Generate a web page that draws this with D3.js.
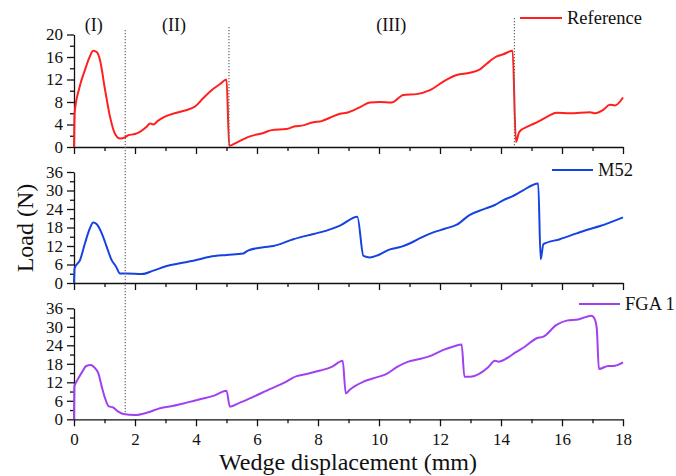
<!DOCTYPE html>
<html>
<head>
<meta charset="utf-8">
<script src="https://cdn.jsdelivr.net/npm/d3@7"></script>
<style>
  html, body { margin: 0; padding: 0; background: #fff; }
  svg { display: block; font-family: "Liberation Serif", "Times New Roman", serif; }
</style>
</head>
<body>
<svg id="chart" width="676" height="476"></svg>
<script>
// Wedge displacement (mm) / load (N) readings for each specimen
const refX = [0, 0.02, 0.17, 0.36, 0.52, 0.63, 0.76, 0.85, 1.02, 1.18, 1.34, 1.51, 1.67, 1.78, 2.0, 2.16, 2.38, 2.49, 2.6, 2.76, 2.98, 3.37, 3.64, 3.97, 4.24, 4.51, 4.79, 5.0, 5.09, 5.23, 5.72, 6.21, 6.48, 6.97, 7.25, 7.46, 7.85, 8.12, 8.39, 8.72, 8.94, 9.38, 9.70, 10.03, 10.41, 10.80, 11.23, 11.67, 12.16, 12.55, 12.98, 13.31, 13.53, 13.86, 14.08, 14.38, 14.49, 14.60, 14.90, 15.22, 15.55, 15.82, 16.26, 16.92, 17.08, 17.35, 17.57, 17.74, 18.0];
const refY = [0, 6.0, 10.4, 13.7, 16.1, 17.1, 16.8, 15.5, 10.1, 5.4, 2.4, 1.5, 1.7, 2.1, 2.3, 2.7, 3.6, 4.2, 4.0, 4.7, 5.4, 6.1, 6.5, 7.2, 8.7, 10.1, 11.2, 12.0, 0.2, 0.5, 1.8, 2.5, 3.0, 3.2, 3.7, 3.8, 4.4, 4.6, 5.2, 5.9, 6.1, 7.1, 7.9, 8.0, 7.9, 9.25, 9.4, 10.1, 11.8, 12.8, 13.2, 13.8, 14.8, 16.1, 16.5, 17.1, 0.9, 2.7, 3.7, 4.5, 5.5, 6.1, 6.0, 6.2, 6.0, 6.6, 7.5, 7.4, 8.8];

const m52X = [0, 0.02, 0.2, 0.36, 0.52, 0.63, 0.74, 0.91, 1.07, 1.23, 1.38, 1.51, 1.73, 2.22, 2.6, 3.04, 3.48, 3.91, 4.46, 5.0, 5.55, 5.7, 6.21, 6.54, 7.19, 7.85, 8.28, 8.72, 9.29, 9.49, 9.70, 9.98, 10.36, 10.74, 11.02, 11.40, 11.78, 12.16, 12.55, 12.98, 13.42, 13.80, 14.08, 14.35, 14.68, 15.22, 15.30, 15.39, 15.93, 16.48, 16.8, 17.25, 18.0];
const m52Y = [0.1, 4.8, 7.5, 12.9, 17.7, 19.6, 19.1, 16.1, 11.8, 7.5, 5.3, 3.1, 3.1, 2.9, 4.0, 5.5, 6.4, 7.2, 8.5, 9.1, 9.6, 10.5, 11.6, 12.0, 14.2, 15.9, 17.0, 18.6, 21.5, 8.8, 8.3, 9.1, 10.9, 11.8, 12.9, 14.8, 16.4, 17.6, 18.9, 22.1, 23.9, 25.3, 26.9, 28.0, 29.8, 32.3, 7.7, 12.6, 14.2, 16.1, 17.2, 18.5, 21.3];

const fgaX = [0, 0.01, 0.11, 0.27, 0.4, 0.55, 0.66, 0.8, 0.91, 1.02, 1.13, 1.29, 1.45, 1.62, 2.0, 2.38, 2.82, 3.26, 3.69, 4.13, 4.57, 5.0, 5.11, 5.44, 5.88, 6.32, 6.86, 7.30, 7.63, 8.07, 8.45, 8.81, 8.91, 9.05, 9.49, 9.92, 10.25, 10.58, 10.96, 11.40, 11.67, 12.11, 12.44, 12.71, 12.80, 12.98, 13.31, 13.58, 13.80, 13.92, 14.19, 14.46, 14.79, 15.17, 15.39, 15.82, 16.15, 16.53, 16.97, 17.06, 17.14, 17.21, 17.52, 17.68, 18.0];
const fgaY = [0, 10.6, 12.7, 15.4, 17.3, 17.6, 16.9, 14.9, 10.6, 6.8, 4.3, 3.8, 2.5, 1.7, 1.4, 2.1, 3.6, 4.4, 5.4, 6.5, 7.6, 9.3, 4.1, 5.4, 7.3, 9.3, 11.7, 14.0, 14.7, 15.8, 17.0, 19.0, 8.4, 9.7, 12.2, 13.6, 14.7, 16.9, 18.7, 19.7, 20.5, 22.5, 23.6, 24.3, 13.8, 13.8, 14.9, 16.9, 19.0, 18.7, 19.8, 21.6, 23.6, 26.3, 26.8, 30.6, 32.0, 32.4, 33.6, 32.8, 29.5, 16.3, 17.3, 17.3, 18.5];

const xTicks = [0, 2, 4, 6, 8, 10, 12, 14, 16, 18];
const xMinorTicks = [1, 3, 5, 7, 9, 11, 13, 15, 17];
const topYTicks = [0, 4, 8, 12, 16, 20];
const topYMinor = [2, 6, 10, 14, 18];
const lowYTicks = [0, 6, 12, 18, 24, 30, 36];
const lowYMinor = [3, 9, 15, 21, 27, 33];

// Stage boundaries (mm) and stage labels
const stageLines = [1.68, 5.08, 14.44];
const stageNames = ["(I)", "(II)", "(III)"];
const stageLabelX = [0.65, 3.28, 10.4];

const seriesNames = ["Reference", "M52", "FGA 1"];
const seriesColors = ["#ff1f1f", "#1443e0", "#a040f0"];

const svg = d3.select("#chart");
const x = d3.scaleLinear().domain([0, 18]).range([74, 623]);

const panels = [
  { name: seriesNames[0], color: seriesColors[0], xs: refX, ys: refY, domain: [0, 20], range: [147, 34.5], major: topYTicks, minor: topYMinor, showX: false, legend: [520, 562, 18] },
  { name: seriesNames[1], color: seriesColors[1], xs: m52X, ys: m52Y, domain: [0, 36], range: [283, 172], major: lowYTicks, minor: lowYMinor, showX: false, legend: [552, 593, 170] },
  { name: seriesNames[2], color: seriesColors[2], xs: fgaX, ys: fgaY, domain: [0, 36], range: [419.3, 308.3], major: lowYTicks, minor: lowYMinor, showX: true, legend: [579, 620, 304] }
];

panels.forEach(p => {
  const y = d3.scaleLinear().domain(p.domain).range(p.range);
  const g = svg.append("g");

  // minor ticks
  g.append("g")
    .attr("transform", `translate(0,${y(0)})`)
    .call(d3.axisBottom(x).tickValues(xMinorTicks).tickSize(4).tickSizeOuter(0).tickFormat(""))
    .call(a => a.select(".domain").remove());
  g.append("g")
    .attr("transform", `translate(${x(0)},0)`)
    .call(d3.axisLeft(y).tickValues(p.minor).tickSize(4).tickSizeOuter(0).tickFormat(""))
    .call(a => a.select(".domain").remove());

  // major x axis
  const xa = g.append("g")
    .attr("transform", `translate(0,${y(0)})`)
    .call(d3.axisBottom(x).tickValues(xTicks).tickSize(7).tickSizeOuter(0)
      .tickFormat(p.showX ? d3.format("d") : ""));
  xa.selectAll("text").attr("font-size", 17).attr("font-family", "Liberation Serif").attr("dy", "0.92em").attr("fill", "#111");

  // major y axis
  const ya = g.append("g")
    .attr("transform", `translate(${x(0)},0)`)
    .call(d3.axisLeft(y).tickValues(p.major).tickSize(7).tickSizeOuter(0).tickPadding(4));
  ya.selectAll("text").attr("font-size", 17).attr("font-family", "Liberation Serif").attr("fill", "#111");

  g.selectAll(".domain, .tick line").attr("stroke", "#111").attr("stroke-width", 1.3);

  // data curve
  const pts = p.xs.map((v, i) => [v, p.ys[i]]);
  g.append("path")
    .datum(pts)
    .attr("fill", "none")
    .attr("stroke", p.color)
    .attr("stroke-width", 2)
    .attr("stroke-linejoin", "round")
    .attr("d", d3.line().curve(d3.curveMonotoneX).x(d => x(d[0])).y(d => y(d[1])));

  // legend
  g.append("line")
    .attr("x1", p.legend[0]).attr("x2", p.legend[1])
    .attr("y1", p.legend[2]).attr("y2", p.legend[2])
    .attr("stroke", p.color).attr("stroke-width", 2);
  g.append("text")
    .attr("x", p.legend[1] + 5).attr("y", p.legend[2])
    .attr("dy", "0.35em")
    .attr("font-size", 18.5)
    .attr("fill", "#111")
    .text(p.name);
});

// stage boundary lines
const dotted = svg.append("g").attr("stroke", "#666").attr("stroke-width", 1.2).attr("stroke-dasharray", "1.2,1.8");
dotted.append("line").attr("x1", x(stageLines[0])).attr("x2", x(stageLines[0])).attr("y1", 30).attr("y2", 413);
dotted.append("line").attr("x1", x(stageLines[1])).attr("x2", x(stageLines[1])).attr("y1", 27).attr("y2", 147);
dotted.append("line").attr("x1", x(stageLines[2])).attr("x2", x(stageLines[2])).attr("y1", 18).attr("y2", 147);

// stage labels
stageNames.forEach((s, i) => {
  svg.append("text")
    .attr("x", x(stageLabelX[i])).attr("y", 25)
    .attr("dy", "0.35em")
    .attr("text-anchor", "middle")
    .attr("font-size", 18)
    .attr("fill", "#111")
    .text(s);
});

// axis titles
svg.append("text")
  .attr("transform", "translate(25,228) rotate(-90)")
  .attr("text-anchor", "middle")
  .attr("dy", "0.35em")
  .attr("font-size", 24)
  .attr("fill", "#111")
  .text("Load (N)");

svg.append("text")
  .attr("x", 348).attr("y", 470)
  .attr("text-anchor", "middle")
  .attr("font-size", 24)
  .attr("fill", "#111")
  .text("Wedge displacement (mm)");
</script>
</body>
</html>
